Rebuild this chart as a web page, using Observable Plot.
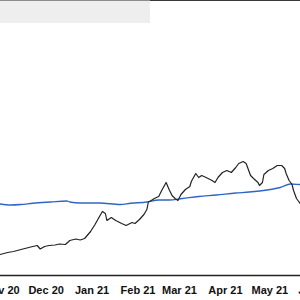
<!DOCTYPE html>
<html>
<head>
<meta charset="utf-8">
<script src="https://cdn.jsdelivr.net/npm/d3@7"></script>
<script src="https://cdn.jsdelivr.net/npm/@observablehq/plot@0.6"></script>
<style>
  html, body { margin: 0; padding: 0; background: #fff; overflow: hidden; width: 300px; height: 300px; }
  #wrap { position: relative; width: 300px; height: 300px; overflow: hidden; }
  #chart { position: absolute; top: 0; left: -23.63px; }
  .hdr { position: absolute; z-index: 2; }
</style>
</head>
<body>
<div id="wrap">
  <div id="chart"></div>
  <div class="hdr" style="left:0;top:0;width:150px;height:1px;background:#8c8c8c"></div>
  <div class="hdr" style="left:150px;top:0;width:150px;height:1px;background:#3a3a3a"></div>
  <div class="hdr" style="left:0;top:1px;width:150px;height:22px;background:#eeeeee"></div>
</div>
<script>
// Price series (black line)
const priceDates = ["2020-10-31","2020-11-05","2020-11-09","2020-11-14","2020-11-18","2020-11-22","2020-11-25","2020-11-27","2020-11-30","2020-12-03","2020-12-07","2020-12-10","2020-12-14","2020-12-17","2020-12-21","2020-12-24","2020-12-27","2020-12-31","2021-01-03","2021-01-06","2021-01-08","2021-01-10","2021-01-11","2021-01-14","2021-01-17","2021-01-21","2021-01-24","2021-01-28","2021-01-30","2021-02-02","2021-02-05","2021-02-07","2021-02-08","2021-02-10","2021-02-12","2021-02-15","2021-02-17","2021-02-20","2021-02-22","2021-02-24","2021-02-26","2021-02-28","2021-03-02","2021-03-05","2021-03-08","2021-03-09","2021-03-12","2021-03-14","2021-03-16","2021-03-19","2021-03-23","2021-03-25","2021-03-27","2021-03-30","2021-04-02","2021-04-05","2021-04-08","2021-04-10","2021-04-13","2021-04-15","2021-04-16","2021-04-18","2021-04-20","2021-04-23","2021-04-24","2021-04-26","2021-04-27","2021-04-30","2021-05-03","2021-05-06","2021-05-09","2021-05-11","2021-05-12","2021-05-14","2021-05-16","2021-05-17","2021-05-18","2021-05-19","2021-05-20","2021-05-22","2021-05-26","2021-05-31"];
const priceValues = [8.4,9.2,9.6,10.4,11.0,11.6,12.0,10.6,11.6,12.0,12.2,12.6,12.4,14.0,14.6,14.2,14.8,17.6,20.4,23.6,25.6,24.8,22.0,23.2,22.0,20.8,20.0,21.2,20.8,22.4,24.4,26.4,29.4,30.0,30.8,31.6,34.0,37.2,34.4,32.0,30.8,30.0,32.4,34.4,35.6,37.6,40.8,39.2,40.0,39.2,38.0,37.2,39.2,41.2,42.0,41.2,43.2,44.8,45.6,44.8,43.2,40.0,38.8,37.2,36.0,37.2,40.4,42.0,42.8,44.0,44.0,42.8,40.8,38.0,36.4,34.0,32.4,30.8,30.0,28.4,29.2,27.6];

// Moving average (blue line)
const avgDates = ["2020-10-31","2020-11-07","2020-11-14","2020-11-22","2020-12-04","2020-12-15","2020-12-17","2020-12-24","2021-01-06","2021-01-20","2021-01-27","2021-02-07","2021-02-15","2021-02-22","2021-03-03","2021-03-14","2021-03-26","2021-04-08","2021-04-17","2021-04-29","2021-05-08","2021-05-15","2021-05-21","2021-05-31"];
const avgValues = [28.6,28.2,28.4,28.9,29.4,29.8,29.4,29.0,29.0,28.4,28.9,29.4,30.2,30.2,30.8,31.6,32.2,33.0,33.4,34.2,35.2,36.6,36.4,36.0];

// Tick labels
const tickDates = ["2020-11-01","2020-12-01","2021-01-01","2021-02-01","2021-03-01","2021-04-01","2021-05-01","2021-06-01"];
const tickLabels = ["Nov 20","Dec 20","Jan 21","Feb 21","Mar 21","Apr 21","May 21","Jun 21"];

const price = priceDates.map((d, i) => ({date: new Date(d), value: priceValues[i]}));
const avg = avgDates.map((d, i) => ({date: new Date(d), value: avgValues[i]}));
const ticks = tickDates.map(d => new Date(d));
const labelOf = new Map(ticks.map((t, i) => [+t, tickLabels[i]]));

const chart = Plot.plot({
  width: 360,
  height: 300,
  marginLeft: 0,
  marginRight: 0,
  marginTop: 25,
  marginBottom: 25,
  style: {
    background: "transparent",
    maxWidth: "none",
    fontFamily: "'Liberation Sans', Arial, Helvetica, sans-serif",
    fontSize: "11px",
    fontWeight: "bold",
    color: "#111",
    overflow: "visible"
  },
  x: {
    type: "utc",
    domain: [new Date("2020-10-15"), new Date("2021-06-15")],
    ticks: ticks,
    tickFormat: d => labelOf.get(+d),
    tickSize: 0,
    tickPadding: 11,
    label: null
  },
  y: {
    domain: [0, 100],
    axis: null
  },
  marks: [
    Plot.ruleY([0], {stroke: "#222", strokeWidth: 1.3}),
    Plot.line(avg, {x: "date", y: "value", stroke: "#2f66c4", strokeWidth: 1.3, curve: "monotone-x"}),
    Plot.line(price, {x: "date", y: "value", stroke: "#222", strokeWidth: 1.2})
  ]
});
document.getElementById("chart").appendChild(chart);
</script>
</body>
</html>
